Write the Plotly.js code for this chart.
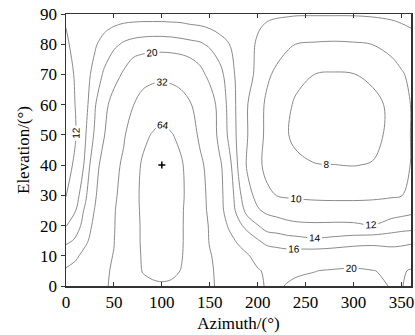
<!DOCTYPE html>
<html><head><meta charset="utf-8">
<script src="https://cdn.plot.ly/plotly-3.0.1.min.js"></script>
<style>html,body{margin:0;padding:0;background:#fff}#chart{width:415px;height:335px}</style>
</head><body><div id="chart"></div>
<script>
// Grid
const azimuth = [0,10,20,30,40,50,60,70,80,90,100,110,120,130,140,150,160,170,180,190,200,210,220,230,240,260,280,300,320,340,350,360];
const elevation = [0,5,10,15,20,25,30,40,50,60,70,80,85,90];

const z_el00 = [24,25.5,27.5,29.5,31,33.5,41,51,58,61,62,61,57,48,40,34,30,26.5,24,22,20.6,19.7,19.7,20.1,20.4,20.7,20.8,20.7,20.4,19.9,19.9,20.5];
const z_el05 = [20.6,22,24,26.5,29.5,34,43,54,65,68,69,68,63.5,53,43,34,29,26,23.5,21.8,20.4,19.3,19.2,19.5,19.7,19.95,20.3,20.5,20.1,19.5,19.6,20.3];
const z_el10 = [17.7,19,21.8,25,29,32.5,44,56,66,70,72,70,66,54,43,33,28,25,22.5,20.3,18.4,17.4,17.1,17.0,17.1,17.3,17.5,17.8,17.7,17.0,17.1,17.9];
const z_el15 = [15.4,16.3,18.8,22.5,27.5,31.5,42,56,67,72,74,72,67,54,41,31,26,22,19,17.3,16.2,15.3,15.1,14.8,14.67,14.36,14.6,14.95,15.2,15.3,15.4,15.4];
const z_el20 = [13.9,15.1,16.8,21.5,26.5,30.8,42,56,67,74,77,74,67,54,40,30.5,24,19.2,16.6,15.1,14.1,13.1,12.9,12.6,12.4,12.3,12.35,12.3,12.05,12.8,13.1,13.3];
const z_el25 = [13,13.95,16.4,20.2,25.5,30.2,42,56,68,76,80,76,68,52,38,29,22,17.5,15.2,13.2,12.2,11.6,11.3,11.0,10.85,10.75,10.75,10.75,10.7,11.1,11.25,11.5];
const z_el30 = [11.9,13.2,15.4,19.2,24,29.5,37,54,70,80,85,80,70,52,38,28,21.5,17.5,14.5,12.6,11.4,10.4,9.95,9.8,9.75,9.65,9.6,9.6,9.7,9.8,9.95,10.3];
const z_el40 = [11.4,12.3,14.3,17.8,22.5,27.5,34.5,50,68,85,95,85,68,50,35,27,21,16.8,13.7,11.6,10.5,9.4,9.0,8.7,8.3,8.05,8.02,7.95,8.1,8.8,9.5,10.05];
const z_el50 = [11.2,11.9,13.8,16.3,19.8,25,30,40,56,66,74,66,56,39,29,24,18.5,15.5,13.5,11.95,10.8,9.5,8.8,8.1,7.7,7.3,7.1,7.1,7.4,8.5,9.3,10.05];
const z_el60 = [11.2,12.05,13.3,15.7,18.6,22,26.7,31.5,38,43,46,43,38,32.6,27.7,22.9,18.2,15.2,13.5,11.95,10.8,9.6,8.9,8.3,7.8,7.3,7.1,7.2,7.6,8.3,9.2,10.05];
const z_el70 = [11.4,12.15,13.4,14.5,16.4,18.2,20.6,24,26,27,27.5,27,26,24,21.5,18.6,16.8,14.9,13.4,12.5,11.6,10.3,9.6,9.1,8.4,7.98,7.85,7.95,8.3,9.2,9.8,10.4];
const z_el80 = [11.8,12.4,13.1,13.8,14.6,15.5,16.3,16.8,17.1,17.3,17.3,17.2,16.9,16.6,16.3,15.6,14.8,14.05,13.3,12.5,11.8,11.3,10.8,10.3,9.98,9.8,9.7,9.8,10.02,10.6,11.0,11.5];
const z_el85 = [11.98,12.5,13.0,13.4,13.8,14.2,14.5,14.7,14.8,14.8,14.8,14.7,14.6,14.4,14.3,14.05,13.6,13.2,12.8,12.5,12.1,11.7,11.5,11.4,11.3,11.2,11.2,11.25,11.4,11.7,11.85,11.98];
const z_el90 = [12.3,12.5,12.7,12.9,13.0,13.1,13.2,13.2,13.2,13.2,13.2,13.2,13.2,13.1,13.0,12.9,12.8,12.6,12.5,12.4,12.3,12.3,12.2,12.15,12.1,12.1,12.1,12.1,12.15,12.2,12.25,12.3];

const contourLevels = [8,10,12,14,16,20,32,64];
const peakAz = [100];
const peakEl = [40];
const xTicks = [0,50,100,150,200,250,300,350];
const yTicks = [0,10,20,30,40,50,60,70,80,90];

const zGrid = [z_el00,z_el05,z_el10,z_el15,z_el20,z_el25,z_el30,z_el40,z_el50,z_el60,z_el70,z_el80,z_el85,z_el90];

const traces = contourLevels.map(lv => ({
  type: 'contour',
  x: azimuth, y: elevation, z: zGrid,
  autocontour: false,
  contours: {start: lv, end: lv + 0.5, size: 1, coloring: 'none', showlabels: true,
    labelfont: {family: 'Liberation Sans, Arial, sans-serif', size: 10, color: '#000'}},
  line: {color: '#8a8a8a', width: 1, smoothing: 1},
  showscale: false, hoverinfo: 'skip'
}));
traces.push({
  type: 'scatter', mode: 'markers', x: peakAz, y: peakEl,
  marker: {symbol: 'cross-thin-open', size: 5, color: '#000', line: {color: '#000', width: 1.5}},
  hoverinfo: 'skip', showlegend: false
});

const serif = '"Liberation Serif", "Times New Roman", serif';
const layout = {
  width: 415, height: 335,
  margin: {l: 66, r: 4, t: 14, b: 49},
  paper_bgcolor: '#fff', plot_bgcolor: '#fff',
  showlegend: false,
  font: {family: serif, color: '#000'},
  xaxis: {
    range: [0, 360], tickvals: xTicks, ticktext: xTicks.map(String),
    ticks: 'inside', ticklen: 4, tickcolor: '#333', mirror: 'ticks',
    showline: true, linecolor: '#333', linewidth: 1.5, showgrid: false, zeroline: false,
    tickfont: {family: serif, size: 17, color: '#000'},
    title: {text: 'Azimuth/(°)', font: {family: serif, size: 17, color: '#000'}, standoff: 6}
  },
  yaxis: {
    range: [0, 90], tickvals: yTicks, ticktext: yTicks.map(String),
    ticks: 'outside', ticklen: 4, tickcolor: '#333', mirror: true,
    showline: true, linecolor: '#333', linewidth: 1.5, showgrid: false, zeroline: false,
    tickfont: {family: serif, size: 17, color: '#000'},
    title: {text: 'Elevation/(°)', font: {family: serif, size: 17, color: '#000'}, standoff: 6}
  }
};
Plotly.newPlot('chart', traces, layout, {displayModeBar: false, staticPlot: true});
</script>
</body></html>
